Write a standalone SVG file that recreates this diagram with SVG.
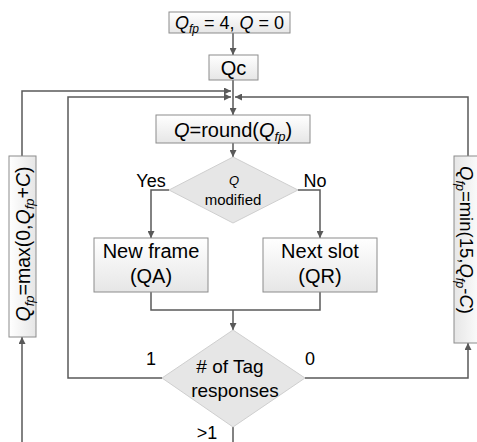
<svg xmlns="http://www.w3.org/2000/svg" width="477" height="442" viewBox="0 0 477 442">
<defs>
<linearGradient id="g" x1="0" y1="0" x2="0" y2="1">
<stop offset="0" stop-color="#ffffff"/><stop offset="1" stop-color="#e6e6e6"/>
</linearGradient>
<linearGradient id="gh" x1="0" y1="0" x2="1" y2="0">
<stop offset="0" stop-color="#ffffff"/><stop offset="1" stop-color="#e6e6e6"/>
</linearGradient>
<linearGradient id="gh2" x1="1" y1="0" x2="0" y2="0">
<stop offset="0" stop-color="#ffffff"/><stop offset="1" stop-color="#e6e6e6"/>
</linearGradient>
<marker id="a" viewBox="0 0 10 10" refX="10" refY="5" markerWidth="7" markerHeight="7" markerUnits="userSpaceOnUse" orient="auto">
<path d="M0,0 L10,5 L0,10 z" fill="#595959"/>
</marker>
</defs>
<style>
.box{fill:url(#g);stroke:#8c8c8c;stroke-width:1}
.dia{fill:#e6e6e6;stroke:#cfcfcf;stroke-width:1}
.c{fill:none;stroke:#595959;stroke-width:1.5}
text{font-family:"Liberation Sans",Arial,sans-serif;fill:#000}
.it{font-style:italic}
</style>
<g id="connectors">
<path class="c" d="M233,33 V55" marker-end="url(#a)"/>
<path class="c" d="M233,80 V115" marker-end="url(#a)"/>
<path class="c" d="M22,156 V91 H231" marker-end="url(#a)"/>
<path class="c" d="M162,378 H68 V97 H231" marker-end="url(#a)"/>
<path class="c" d="M468,156 V97 H235" marker-end="url(#a)"/>
<path class="c" d="M305,378 H468 V343" marker-end="url(#a)"/>
<path class="c" d="M22,442 V337" marker-end="url(#a)"/>
<path class="c" d="M233,143 V157" marker-end="url(#a)"/>
<path class="c" d="M169,190 H151 V238" marker-end="url(#a)"/>
<path class="c" d="M298,190 H320 V238" marker-end="url(#a)"/>
<path class="c" d="M151,292 V310 H320 V292"/>
<path class="c" d="M233,310 V330" marker-end="url(#a)"/>
<path class="c" d="M233,427 V442"/>
</g>
<g id="init">
<rect class="box" x="169" y="12" width="121" height="21"/>
<text x="229.5" y="29" font-size="18" text-anchor="middle"><tspan class="it">Q</tspan><tspan class="it" font-size="12" dy="4">fp</tspan><tspan dy="-4"> = 4, </tspan><tspan class="it">Q</tspan> = 0</text>
</g>
<g id="qc">
<rect class="box" x="209" y="55" width="49" height="25"/>
<text x="233.5" y="75" font-size="20" text-anchor="middle">Qc</text>
</g>
<g id="round">
<rect class="box" x="156" y="115" width="154" height="28"/>
<text x="233" y="137" font-size="20" text-anchor="middle"><tspan class="it">Q</tspan>=round(<tspan class="it">Q</tspan><tspan class="it" font-size="13" dy="4">fp</tspan><tspan dy="-4">)</tspan></text>
</g>
<g id="qmod">
<polygon class="dia" points="233,157 298,190 233,223 169,190"/>
<text x="234" y="185" font-size="13" text-anchor="middle" class="it">Q</text>
<text x="233" y="205" font-size="15" text-anchor="middle">modified</text>
<text x="151" y="187" font-size="18" text-anchor="middle">Yes</text>
<text x="315" y="187" font-size="18" text-anchor="middle">No</text>
</g>
<g id="newframe">
<rect class="box" x="94" y="238" width="114" height="54"/>
<text x="151" y="258" font-size="20" text-anchor="middle">New frame</text>
<text x="151" y="283" font-size="20" text-anchor="middle">(QA)</text>
</g>
<g id="nextslot">
<rect class="box" x="263" y="238" width="114" height="54"/>
<text x="320" y="258" font-size="20" text-anchor="middle">Next slot</text>
<text x="320" y="283" font-size="20" text-anchor="middle">(QR)</text>
</g>
<g id="tags">
<polygon class="dia" points="233,330 305,378 233,427 162,378"/>
<text x="230" y="373" font-size="19" text-anchor="middle"># of Tag</text>
<text x="235" y="397" font-size="19" text-anchor="middle">responses</text>
<text x="151" y="365" font-size="18" text-anchor="middle">1</text>
<text x="310" y="365" font-size="18" text-anchor="middle">0</text>
<text x="207" y="439" font-size="18" text-anchor="middle">&gt;1</text>
</g>
<g id="incr">
<rect x="9" y="156" width="27" height="181" fill="url(#gh)" stroke="#8c8c8c"/>
<text transform="translate(30,244) rotate(-90)" font-size="19.5" text-anchor="middle"><tspan class="it">Q</tspan><tspan class="it" font-size="13" dy="4">fp</tspan><tspan dy="-4">=max(0,</tspan><tspan class="it">Q</tspan><tspan class="it" font-size="13" dy="4">fp</tspan><tspan dy="-4">+</tspan><tspan class="it">C</tspan>)</text>
</g>
<g id="decr">
<rect x="454" y="156" width="30" height="187" fill="url(#gh2)" stroke="#8c8c8c"/>
<text transform="translate(460,240) rotate(90)" font-size="18.5" text-anchor="middle"><tspan class="it">Q</tspan><tspan class="it" font-size="12.5" dy="4">fp</tspan><tspan dy="-4">=min(15,</tspan><tspan class="it">Q</tspan><tspan class="it" font-size="12.5" dy="4">fp</tspan><tspan dy="-4">-</tspan><tspan class="it">C</tspan>)</text>
</g>
</svg>
